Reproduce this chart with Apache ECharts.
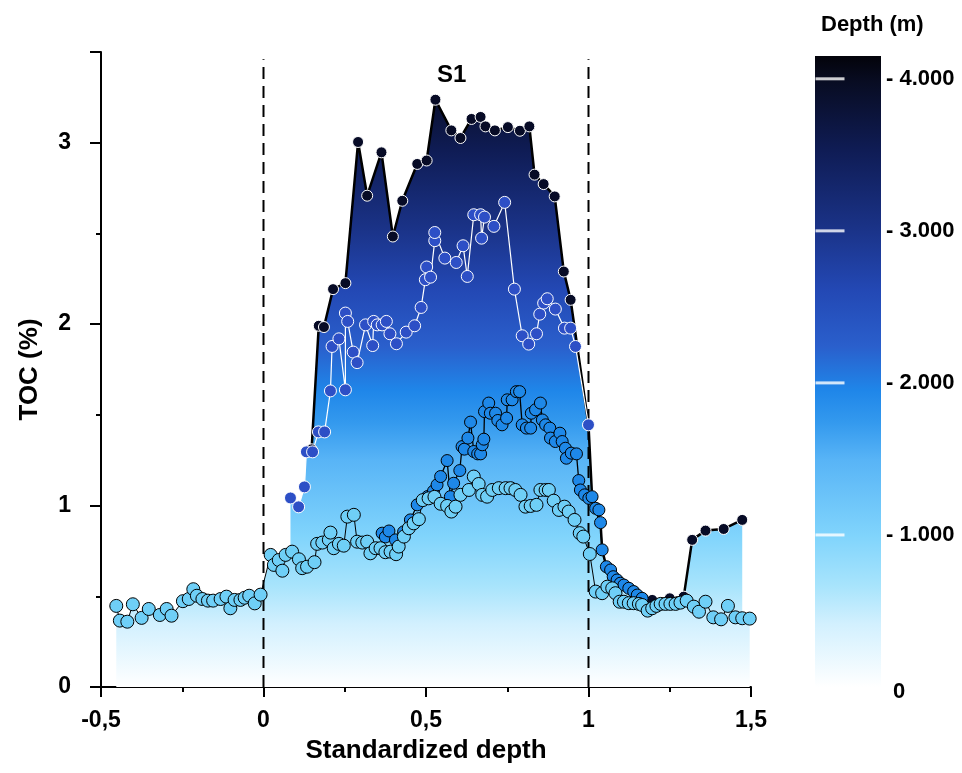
<!DOCTYPE html>
<html>
<head>
<meta charset="utf-8">
<title>TOC vs standardized depth</title>
<script src="https://cdn.jsdelivr.net/npm/echarts@6/dist/echarts.min.js"></script>
<style>
  html, body { margin: 0; padding: 0; background: #fff; }
  #chart { width: 962px; height: 773px; }
</style>
</head>
<body>
<div id="chart"></div>
<script>
// profiles: [standardized depth, TOC %]
const wellA = [
  [0.148, 1.31], [0.170, 1.991], [0.186, 1.984], [0.214, 2.193], [0.252, 2.226], [0.291, 3.004],
  [0.319, 2.708], [0.363, 2.947], [0.398, 2.483], [0.427, 2.680], [0.473, 2.883], [0.502, 2.902],
  [0.529, 3.237], [0.578, 3.068], [0.606, 3.026], [0.640, 3.131], [0.668, 3.142], [0.683, 3.090],
  [0.712, 3.068], [0.752, 3.086], [0.789, 3.066], [0.818, 3.090], [0.834, 2.824], [0.862, 2.772],
  [0.896, 2.704], [0.924, 2.290], [0.945, 2.134], [1.0, 1.445], [1.011, 1.049], [1.022, 0.985],
  [1.037, 0.906], [1.042, 0.756], [1.055, 0.663], [1.076, 0.608], [1.098, 0.572], [1.124, 0.544],
  [1.150, 0.507], [1.165, 0.489], [1.196, 0.480], [1.250, 0.489], [1.293, 0.498], [1.319, 0.811],
  [1.360, 0.862], [1.416, 0.871], [1.473, 0.921]
];
const wellB = [
  [0.083, 1.042], [0.108, 0.993], [0.126, 1.103], [0.132, 1.296], [0.151, 1.296], [0.169, 1.406],
  [0.188, 1.406], [0.206, 1.632], [0.211, 1.877], [0.232, 1.919], [0.252, 1.638], [0.252, 2.061],
  [0.259, 2.015], [0.276, 1.846], [0.288, 1.788], [0.314, 1.996], [0.336, 1.882], [0.339, 2.015],
  [0.350, 1.996], [0.365, 1.996], [0.378, 2.015], [0.389, 1.947], [0.409, 1.892], [0.439, 1.956],
  [0.465, 1.991], [0.485, 2.092], [0.498, 2.245], [0.502, 2.315], [0.514, 2.259], [0.527, 2.460],
  [0.527, 2.505], [0.558, 2.364], [0.593, 2.340], [0.614, 2.432], [0.627, 2.263], [0.647, 2.603],
  [0.668, 2.603], [0.671, 2.474], [0.680, 2.590], [0.709, 2.539], [0.742, 2.671], [0.772, 2.193],
  [0.796, 1.936], [0.816, 1.890], [0.840, 1.947], [0.850, 2.055], [0.862, 2.116], [0.873, 2.140],
  [0.898, 2.083], [0.926, 1.978], [0.945, 1.978], [0.960, 1.877], [1.0, 1.445]
];
const wellC = [
  [0.365, 0.848], [0.375, 0.827], [0.386, 0.860], [0.406, 0.811], [0.431, 0.855], [0.452, 0.921],
  [0.473, 1.004], [0.505, 1.05], [0.523, 1.08], [0.534, 1.114], [0.545, 1.160], [0.565, 1.248],
  [0.575, 1.049], [0.585, 1.123], [0.604, 1.193], [0.611, 1.325], [0.618, 1.311], [0.629, 1.372],
  [0.637, 1.460], [0.647, 1.298], [0.659, 1.285], [0.668, 1.285], [0.673, 1.335], [0.678, 1.366],
  [0.680, 1.518], [0.693, 1.565], [0.698, 1.509], [0.714, 1.509], [0.721, 1.469], [0.734, 1.445],
  [0.748, 1.482], [0.750, 1.583], [0.765, 1.583], [0.778, 1.628], [0.788, 1.628], [0.796, 1.445],
  [0.809, 1.427], [0.822, 1.427], [0.824, 1.509], [0.837, 1.528], [0.852, 1.565], [0.858, 1.472],
  [0.868, 1.445], [0.881, 1.427], [0.883, 1.372], [0.898, 1.353], [0.912, 1.399], [0.919, 1.353],
  [0.929, 1.316], [0.932, 1.261], [0.947, 1.289], [0.963, 1.285], [0.970, 1.138], [0.975, 1.086],
  [0.988, 1.059], [1.001, 1.040], [1.011, 1.049], [1.022, 0.985], [1.032, 0.976], [1.037, 0.906],
  [1.042, 0.756], [1.055, 0.663], [1.068, 0.645], [1.076, 0.608], [1.088, 0.590], [1.098, 0.572],
  [1.109, 0.562], [1.124, 0.544], [1.139, 0.526], [1.150, 0.507], [1.165, 0.489]
];
const wellD = [
  [-0.453, 0.447], [-0.442, 0.366], [-0.419, 0.360], [-0.402, 0.456], [-0.375, 0.381], [-0.353, 0.430],
  [-0.319, 0.397], [-0.298, 0.430], [-0.283, 0.393], [-0.248, 0.473], [-0.230, 0.485], [-0.216, 0.539],
  [-0.205, 0.503], [-0.188, 0.485], [-0.171, 0.476], [-0.155, 0.476], [-0.132, 0.485], [-0.114, 0.498],
  [-0.102, 0.434], [-0.089, 0.480], [-0.071, 0.480], [-0.058, 0.492], [-0.044, 0.503], [-0.027, 0.461],
  [-0.009, 0.509], [0.022, 0.728], [0.032, 0.673], [0.047, 0.700], [0.058, 0.641], [0.068, 0.728],
  [0.088, 0.746], [0.109, 0.704], [0.119, 0.655], [0.134, 0.663], [0.157, 0.688], [0.165, 0.789],
  [0.181, 0.796], [0.201, 0.811], [0.206, 0.851], [0.216, 0.765], [0.232, 0.789], [0.247, 0.779],
  [0.258, 0.939], [0.278, 0.949], [0.288, 0.801], [0.304, 0.796], [0.319, 0.801], [0.329, 0.737],
  [0.345, 0.765], [0.360, 0.765], [0.375, 0.743], [0.391, 0.746], [0.408, 0.732], [0.416, 0.774],
  [0.432, 0.829], [0.447, 0.875], [0.462, 0.902], [0.478, 0.925], [0.490, 1.030], [0.508, 1.040],
  [0.526, 1.048], [0.545, 1.010], [0.565, 0.998], [0.578, 0.967], [0.591, 0.994], [0.606, 1.059],
  [0.632, 1.086], [0.647, 1.160], [0.662, 1.119], [0.673, 1.059], [0.688, 1.049], [0.704, 1.086],
  [0.724, 1.096], [0.745, 1.096], [0.760, 1.096], [0.775, 1.086], [0.791, 1.059], [0.806, 0.994],
  [0.822, 0.998], [0.840, 1.004], [0.852, 1.086], [0.868, 1.086], [0.878, 1.086], [0.893, 1.027],
  [0.909, 0.976], [0.926, 0.994], [0.939, 0.967], [0.957, 0.921], [0.973, 0.848], [0.984, 0.829],
  [1.004, 0.733], [1.022, 0.526], [1.042, 0.517], [1.058, 0.553], [1.073, 0.544], [1.083, 0.517],
  [1.096, 0.470], [1.109, 0.470], [1.124, 0.462], [1.139, 0.462], [1.155, 0.458], [1.165, 0.452],
  [1.182, 0.421], [1.196, 0.434], [1.209, 0.447], [1.222, 0.458], [1.237, 0.458], [1.252, 0.458],
  [1.268, 0.458], [1.283, 0.465], [1.302, 0.476], [1.324, 0.443], [1.340, 0.415], [1.360, 0.470],
  [1.384, 0.384], [1.408, 0.373], [1.429, 0.447], [1.452, 0.384], [1.473, 0.379], [1.496, 0.377]
];
const sectionBounds = [0, 1];
const sectionTop = 3.46;
const depthTicks = [1000, 2000, 3000, 4000];
const depthMax = 4150;

const FONT = '"Liberation Sans", Arial, sans-serif';

// depth colour ramp, deep (top) -> shallow (bottom)
const rampStops = [
  { offset: 0, color: '#03030a' },
  { offset: 0.04, color: '#080c22' },
  { offset: 0.15, color: '#0f1c55' },
  { offset: 0.27, color: '#1a3286' },
  { offset: 0.37, color: '#2348b4' },
  { offset: 0.46, color: '#2a5fcc' },
  { offset: 0.53, color: '#1f86e9' },
  { offset: 0.58, color: '#3399ee' },
  { offset: 0.64, color: '#58b4f6' },
  { offset: 0.76, color: '#80d4fc' },
  { offset: 0.84, color: '#a8e4fc' },
  { offset: 0.9, color: '#d2f0fe' },
  { offset: 1, color: '#ffffff' }
];
// same ramp laid over the plot in page pixels, so it lines up with the colour bar
const plotFill = new echarts.graphic.LinearGradient(0, 56, 0, 687, rampStops, true);
const barFill = new echarts.graphic.LinearGradient(0, 0, 0, 1, rampStops);

const chart = echarts.init(document.getElementById('chart'));

function areaOf(data) {
  return {
    type: 'line', data: data, symbol: 'none', silent: true, z: 1,
    lineStyle: { width: 0 }, areaStyle: { color: plotFill, opacity: 1 }
  };
}

function profile(data, fill, border, lineColor, lineWidth, size) {
  return {
    type: 'line', data: data, z: 10,
    symbol: 'circle', symbolSize: size, showAllSymbol: true,
    lineStyle: { color: lineColor, width: lineWidth },
    itemStyle: { color: fill, borderColor: border, borderWidth: 1 }
  };
}

// S1 boundaries
const boundaries = sectionBounds.map(x => ({
  type: 'line', data: [[x, 0], [x, sectionTop]], symbol: 'none', silent: true, z: 2,
  lineStyle: { color: '#000', width: 2, type: [12, 7] }
}));

const axisText = { fontFamily: FONT, fontWeight: 'bold', color: '#000' };

chart.setOption({
  animation: false,
  title: [
    { text: 'Depth (m)', left: 816, top: 9, textStyle: Object.assign({ fontSize: 22 }, axisText) },
    { text: 'S1', left: 432, top: 58, textStyle: Object.assign({ fontSize: 24 }, axisText) }
  ],
  grid: [
    { left: 101, right: 211, top: 52, bottom: 86 },
    { left: 815, width: 66, top: 56, bottom: 86 }
  ],
  xAxis: [
    {
      type: 'value', min: -0.5, max: 1.5, interval: 0.5,
      name: 'Standardized depth', nameLocation: 'middle', nameGap: 51,
      nameTextStyle: Object.assign({ fontSize: 26 }, axisText),
      axisLine: { onZero: false, lineStyle: { color: '#000', width: 2 } },
      axisTick: { length: 10, lineStyle: { color: '#000', width: 2 } },
      minorTick: { show: true, splitNumber: 2, length: 5, lineStyle: { color: '#000', width: 2 } },
      splitLine: { show: false },
      axisLabel: Object.assign({
        fontSize: 23, margin: 22,
        formatter: v => String(v).replace('.', ',')
      }, axisText)
    },
    { gridIndex: 1, type: 'category', data: ['depth'], show: false }
  ],
  yAxis: [
    {
      type: 'value', min: 0, max: 3.5, interval: 1,
      name: 'TOC (%)', nameLocation: 'middle', nameGap: 58,
      nameTextStyle: Object.assign({ fontSize: 26 }, axisText),
      axisLine: { show: true, onZero: false, lineStyle: { color: '#000', width: 2 } },
      axisTick: { length: 11, lineStyle: { color: '#000', width: 2 } },
      minorTick: { show: true, splitNumber: 2, length: 5, lineStyle: { color: '#000', width: 2 } },
      splitLine: { show: false },
      axisLabel: Object.assign({
        fontSize: 23, margin: 30,
        formatter: v => (Number.isInteger(v) ? String(v) : '')
      }, axisText)
    },
    {
      gridIndex: 1, type: 'value', min: 0, max: depthMax, interval: 1000, position: 'right',
      axisLine: { show: false }, axisTick: { show: false }, splitLine: { show: false },
      axisLabel: Object.assign({
        fontSize: 22, margin: 5,
        formatter: v => {
          if (v === 0) return '{z|0}';
          if (v % 1000 !== 0) return '';
          return '- ' + (v / 1000).toFixed(3);
        },
        rich: { z: { fontFamily: FONT, fontWeight: 'bold', fontSize: 22, color: '#000', padding: [10, 0, 0, 7] } }
      }, axisText)
    }
  ],
  series: [
    areaOf(wellA), areaOf(wellB), areaOf(wellC), areaOf(wellD),
    ...boundaries,
    profile(wellA, '#070b26', '#ffffff', '#000', 2.5, 11),
    profile(wellB, '#2d4fc6', '#ffffff', '#ffffff', 1.2, 12),
    profile(wellC, '#1e88e8', '#000', '#000', 1.3, 12),
    profile(wellD, '#6fcff7', '#000', '#000', 1, 13),
    {
      type: 'bar', xAxisIndex: 1, yAxisIndex: 1, data: [depthMax], barWidth: '100%',
      silent: true, itemStyle: { color: barFill }
    },
    {
      type: 'scatter', xAxisIndex: 1, yAxisIndex: 1, z: 5, silent: true,
      data: depthTicks.map(v => [0, v]),
      symbol: 'rect', symbolSize: [29, 3], symbolOffset: [-18, 0],
      itemStyle: { color: '#ffffff' }
    }
  ]
});
</script>
</body>
</html>
